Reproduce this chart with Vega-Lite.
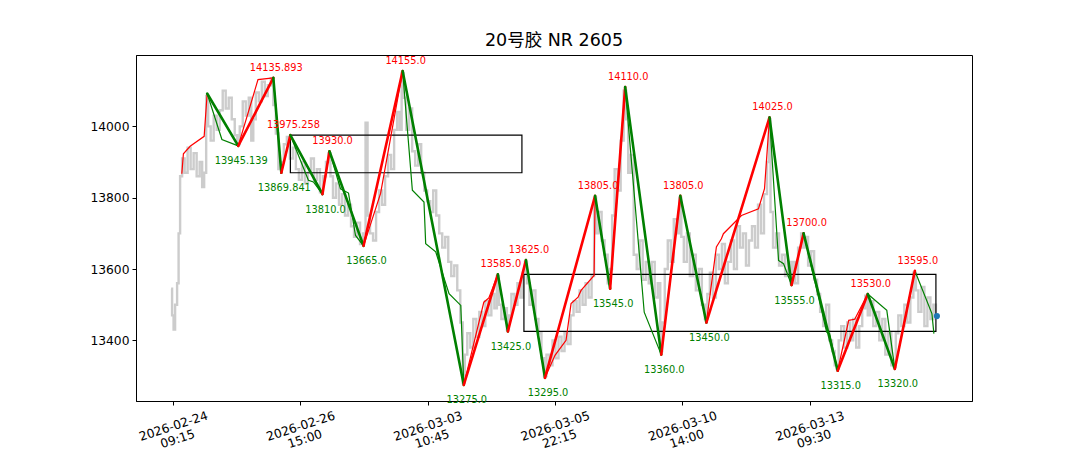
{
  "$schema": "https://vega.github.io/schema/vega-lite/v6.json",
  "width": 836,
  "height": 346,
  "autosize": {"type": "none"},
  "padding": {"left": 136, "top": 55, "right": 108, "bottom": 49},
  "title": {"text": "20号胶 NR 2605", "font": "DejaVu Sans, Noto Sans CJK SC", "fontSize": 17.5, "fontWeight": "normal", "color": "black", "offset": 6, "anchor": "middle"},
  "config": {
    "view": {"stroke": "black", "strokeWidth": 1},
    "axis": {"grid": false, "domainColor": "black", "tickColor": "black", "labelColor": "black", "labelFont": "DejaVu Sans", "labelFontSize": 12.3, "tickSize": 4, "domainWidth": 1, "tickWidth": 1, "title": null}
  },
  "datasets": {
    "gray": [
      {"i":-2,"v":13545},{"i":0,"v":13470},{"i":1,"v":13430},{"i":3,"v":13500},{"i":5,"v":13560},{"i":6,"v":13700},{"i":8,"v":13860},{"i":10,"v":13910},{"i":13,"v":13870},{"i":16,"v":13940},{"i":19,"v":13880},{"i":22,"v":13925},{"i":25,"v":13860},{"i":28,"v":13900},{"i":30,"v":13830},{"i":32,"v":13870},
      {"i":34,"v":14085},{"i":36,"v":14000},{"i":39,"v":13960},{"i":42,"v":14030},{"i":45,"v":13990},{"i":48,"v":14045},{"i":51,"v":14100},{"i":54,"v":14050},{"i":57,"v":14080},{"i":60,"v":14020},{"i":63,"v":13975},{"i":65,"v":13950},{"i":68,"v":14000},{"i":71,"v":14070},{"i":74,"v":14030},{"i":77,"v":14080},{"i":79,"v":13960},{"i":81,"v":14020},{"i":84,"v":14095},{"i":87,"v":14070},{"i":90,"v":14125},{"i":93,"v":14085},{"i":96,"v":14115},{"i":99,"v":14135},
      {"i":101,"v":14060},{"i":104,"v":13980},{"i":106,"v":13880},{"i":109,"v":13900},{"i":112,"v":13950},{"i":115,"v":13970},{"i":118,"v":13910},{"i":121,"v":13940},{"i":124,"v":13880},{"i":127,"v":13850},{"i":130,"v":13900},{"i":133,"v":13840},{"i":136,"v":13870},{"i":139,"v":13910},{"i":142,"v":13850},{"i":145,"v":13880},{"i":148,"v":13815},{"i":151,"v":13860},{"i":154,"v":13900},{"i":156,"v":13925},{"i":158,"v":13860},{"i":161,"v":13800},{"i":164,"v":13840},{"i":167,"v":13780},{"i":170,"v":13810},{"i":173,"v":13750},{"i":176,"v":13780},{"i":179,"v":13720},{"i":182,"v":13690},{"i":185,"v":13730},{"i":188,"v":13670},{"i":191,"v":13700},{"i":193,"v":14010},{"i":195,"v":13750},{"i":198,"v":13700},
      {"i":201,"v":13680},{"i":204,"v":13760},{"i":207,"v":13820},{"i":210,"v":13780},{"i":213,"v":13860},{"i":216,"v":13920},{"i":219,"v":13880},{"i":222,"v":13990},{"i":225,"v":14040},{"i":227,"v":13990},{"i":229,"v":14150},{"i":231,"v":14080},{"i":234,"v":13990},{"i":237,"v":14050},{"i":240,"v":13930},{"i":243,"v":13890},{"i":246,"v":13950},{"i":249,"v":13870},{"i":252,"v":13820},{"i":255,"v":13790},{"i":258,"v":13760},{"i":261,"v":13820},{"i":264,"v":13750},{"i":267,"v":13700},{"i":270,"v":13660},{"i":273,"v":13690},{"i":276,"v":13620},{"i":279,"v":13580},{"i":282,"v":13610},{"i":285,"v":13540},{"i":288,"v":13450},{"i":290,"v":13280},{"i":292,"v":13360},{"i":295,"v":13420},{"i":298,"v":13380},
      {"i":301,"v":13460},{"i":304,"v":13410},{"i":307,"v":13480},{"i":310,"v":13440},{"i":313,"v":13510},{"i":316,"v":13470},{"i":319,"v":13530},{"i":322,"v":13490},{"i":324,"v":13580},{"i":326,"v":13500},{"i":329,"v":13460},{"i":332,"v":13490},{"i":334,"v":13430},{"i":336,"v":13470},{"i":339,"v":13530},{"i":342,"v":13500},{"i":345,"v":13560},{"i":348,"v":13520},{"i":350,"v":13590},{"i":352,"v":13620},{"i":354,"v":13560},{"i":357,"v":13500},{"i":360,"v":13540},{"i":363,"v":13460},{"i":366,"v":13420},{"i":369,"v":13350},{"i":371,"v":13300},{"i":374,"v":13360},{"i":377,"v":13330},{"i":380,"v":13400},{"i":383,"v":13350},{"i":386,"v":13410},{"i":389,"v":13370},{"i":392,"v":13420},{"i":395,"v":13390},{"i":398,"v":13470},
      {"i":401,"v":13510},{"i":404,"v":13480},{"i":407,"v":13540},{"i":410,"v":13500},{"i":413,"v":13560},{"i":416,"v":13520},{"i":419,"v":13580},{"i":421,"v":13800},{"i":423,"v":13700},{"i":426,"v":13760},{"i":429,"v":13680},{"i":432,"v":13640},{"i":435,"v":13560},{"i":437,"v":13600},{"i":439,"v":13750},{"i":442,"v":13880},{"i":445,"v":13820},{"i":448,"v":13960},{"i":451,"v":14100},{"i":453,"v":14020},{"i":455,"v":13870},{"i":458,"v":13920},{"i":461,"v":13640},{"i":464,"v":13600},{"i":467,"v":13680},{"i":470,"v":13570},{"i":473,"v":13620},{"i":476,"v":13560},{"i":479,"v":13620},{"i":482,"v":13520},{"i":485,"v":13560},{"i":487,"v":13370},{"i":489,"v":13450},{"i":492,"v":13600},{"i":495,"v":13680},{"i":498,"v":13620},
      {"i":501,"v":13740},{"i":504,"v":13700},{"i":506,"v":13800},{"i":508,"v":13690},{"i":511,"v":13620},{"i":514,"v":13700},{"i":517,"v":13580},{"i":520,"v":13640},{"i":523,"v":13540},{"i":526,"v":13600},{"i":529,"v":13500},{"i":532,"v":13460},{"i":534,"v":13530},{"i":537,"v":13590},{"i":540,"v":13520},{"i":543,"v":13640},{"i":546,"v":13600},{"i":549,"v":13670},{"i":552,"v":13560},{"i":555,"v":13620},{"i":558,"v":13680},{"i":561,"v":13600},{"i":564,"v":13720},{"i":567,"v":13660},{"i":570,"v":13700},{"i":573,"v":13610},{"i":576,"v":13680},{"i":579,"v":13720},{"i":582,"v":13660},{"i":585,"v":13780},{"i":588,"v":13700},{"i":591,"v":13810},{"i":594,"v":13900},{"i":595,"v":14020},{"i":597,"v":13760},
      {"i":600,"v":13660},{"i":603,"v":13700},{"i":606,"v":13610},{"i":609,"v":13640},{"i":612,"v":13580},{"i":615,"v":13620},{"i":617,"v":13560},{"i":619,"v":13620},{"i":622,"v":13560},{"i":625,"v":13660},{"i":628,"v":13700},{"i":630,"v":13660},{"i":632,"v":13690},{"i":635,"v":13610},{"i":638,"v":13650},{"i":641,"v":13570},{"i":644,"v":13530},{"i":647,"v":13480},{"i":650,"v":13440},{"i":653,"v":13500},{"i":656,"v":13400},{"i":659,"v":13370},{"i":661,"v":13330},{"i":663,"v":13320},{"i":665,"v":13400},{"i":668,"v":13440},{"i":671,"v":13380},{"i":674,"v":13450},{"i":677,"v":13400},{"i":680,"v":13460},{"i":683,"v":13380},{"i":686,"v":13440},{"i":689,"v":13490},{"i":692,"v":13525},{"i":694,"v":13470},{"i":697,"v":13510},
      {"i":700,"v":13440},{"i":703,"v":13480},{"i":706,"v":13400},{"i":709,"v":13460},{"i":712,"v":13360},{"i":715,"v":13420},{"i":718,"v":13330},{"i":720,"v":13325},{"i":722,"v":13420},{"i":725,"v":13470},{"i":728,"v":13440},{"i":731,"v":13500},{"i":734,"v":13450},{"i":737,"v":13520},{"i":740,"v":13590},{"i":742,"v":13540},{"i":745,"v":13480},{"i":748,"v":13550},{"i":751,"v":13440},{"i":754,"v":13520},{"i":757,"v":13460},{"i":760,"v":13500},{"i":762,"v":13468}
    ],
    "boxes": [
      {"i":117,"i2":348,"v":13869.841,"v2":13975.258},
      {"i":350,"i2":761,"v":13425,"v2":13585}
    ],
    "thin": [
      {"s":0,"d":"up","i":8.7,"v":13867},{"s":0,"d":"up","i":10.3,"v":13923},{"s":0,"d":"up","i":17,"v":13944},{"s":0,"d":"up","i":31,"v":13972},{"s":0,"d":"up","i":34,"v":14092},
      {"s":1,"d":"down","i":34,"v":14092},{"s":1,"d":"down","i":48.7,"v":13963},{"s":1,"d":"down","i":65,"v":13945.139},
      {"s":2,"d":"up","i":65,"v":13945.139},{"s":2,"d":"up","i":84.7,"v":14131},{"s":2,"d":"up","i":100,"v":14135.893},
      {"s":3,"d":"down","i":100,"v":14135.893},{"s":3,"d":"down","i":108,"v":13869.841},
      {"s":4,"d":"up","i":108,"v":13869.841},{"s":4,"d":"up","i":117,"v":13975.258},
      {"s":5,"d":"down","i":117,"v":13975.258},{"s":5,"d":"down","i":135,"v":13849},{"s":5,"d":"down","i":140,"v":13844},{"s":5,"d":"down","i":149,"v":13810},
      {"s":6,"d":"up","i":149,"v":13810},{"s":6,"d":"up","i":156,"v":13930},
      {"s":7,"d":"down","i":156,"v":13930},{"s":7,"d":"down","i":167,"v":13825},{"s":7,"d":"down","i":175,"v":13813},{"s":7,"d":"down","i":182,"v":13694},{"s":7,"d":"down","i":190,"v":13665},
      {"s":8,"d":"up","i":190,"v":13665},{"s":8,"d":"up","i":207,"v":13812},{"s":8,"d":"up","i":229,"v":14155},
      {"s":9,"d":"down","i":229,"v":14155},{"s":9,"d":"down","i":238.7,"v":13821},{"s":9,"d":"down","i":250.3,"v":13788},{"s":9,"d":"down","i":252,"v":13671},{"s":9,"d":"down","i":262,"v":13648},{"s":9,"d":"down","i":275.3,"v":13531},{"s":9,"d":"down","i":287,"v":13498},{"s":9,"d":"down","i":290,"v":13275},
      {"s":10,"d":"up","i":290,"v":13275},{"s":10,"d":"up","i":310,"v":13507},{"s":10,"d":"up","i":315,"v":13519},{"s":10,"d":"up","i":324,"v":13585},
      {"s":11,"d":"down","i":324,"v":13585},{"s":11,"d":"down","i":334,"v":13425},
      {"s":12,"d":"up","i":334,"v":13425},{"s":12,"d":"up","i":352,"v":13625},
      {"s":13,"d":"down","i":352,"v":13625},{"s":13,"d":"down","i":371,"v":13295},
      {"s":14,"d":"up","i":371,"v":13295},{"s":14,"d":"up","i":381,"v":13358},{"s":14,"d":"up","i":392,"v":13400},{"s":14,"d":"up","i":397,"v":13503},{"s":14,"d":"up","i":404,"v":13521},{"s":14,"d":"up","i":407,"v":13540},{"s":14,"d":"up","i":420,"v":13582},{"s":14,"d":"up","i":421,"v":13805},
      {"s":15,"d":"down","i":421,"v":13805},{"s":15,"d":"down","i":436,"v":13545},
      {"s":16,"d":"up","i":436,"v":13545},{"s":16,"d":"up","i":451,"v":14110},
      {"s":17,"d":"down","i":451,"v":14110},{"s":17,"d":"down","i":470,"v":13479},{"s":17,"d":"down","i":487,"v":13360},
      {"s":18,"d":"up","i":487,"v":13360},{"s":18,"d":"up","i":506,"v":13805},
      {"s":19,"d":"down","i":506,"v":13805},{"s":19,"d":"down","i":532,"v":13450},
      {"s":20,"d":"up","i":532,"v":13450},{"s":20,"d":"up","i":542,"v":13662},{"s":20,"d":"up","i":547,"v":13685},{"s":20,"d":"up","i":549,"v":13699},{"s":20,"d":"up","i":567,"v":13750},{"s":20,"d":"up","i":584,"v":13769},{"s":20,"d":"up","i":590,"v":13825},{"s":20,"d":"up","i":595,"v":14025},
      {"s":21,"d":"down","i":595,"v":14025},{"s":21,"d":"down","i":604,"v":13624},{"s":21,"d":"down","i":609,"v":13615},{"s":21,"d":"down","i":617,"v":13555},
      {"s":22,"d":"up","i":617,"v":13555},{"s":22,"d":"up","i":629,"v":13700},
      {"s":23,"d":"down","i":629,"v":13700},{"s":23,"d":"down","i":652,"v":13423},{"s":23,"d":"down","i":655,"v":13419},{"s":23,"d":"down","i":663,"v":13315},
      {"s":24,"d":"up","i":663,"v":13315},{"s":24,"d":"up","i":674,"v":13456},{"s":24,"d":"up","i":680,"v":13459},{"s":24,"d":"up","i":693,"v":13530},
      {"s":25,"d":"down","i":693,"v":13530},{"s":25,"d":"down","i":712,"v":13484},{"s":25,"d":"down","i":720,"v":13320},
      {"s":26,"d":"up","i":720,"v":13320},{"s":26,"d":"up","i":740,"v":13595},
      {"s":27,"d":"down","i":740,"v":13595},{"s":27,"d":"down","i":757,"v":13475},{"s":27,"d":"down","i":759,"v":13419}
    ],
    "thick": [
      {"i":34,"v":14092,"i2":65,"v2":13945.139,"d":"down"},
      {"i":65,"v":13945.139,"i2":100,"v2":14135.893,"d":"up"},
      {"i":100,"v":14135.893,"i2":108,"v2":13869.841,"d":"down"},
      {"i":108,"v":13869.841,"i2":117,"v2":13975.258,"d":"up"},
      {"i":117,"v":13975.258,"i2":149,"v2":13810,"d":"down"},
      {"i":149,"v":13810,"i2":156,"v2":13930,"d":"up"},
      {"i":156,"v":13930,"i2":190,"v2":13665,"d":"down"},
      {"i":190,"v":13665,"i2":229,"v2":14155,"d":"up"},
      {"i":229,"v":14155,"i2":290,"v2":13275,"d":"down"},
      {"i":290,"v":13275,"i2":324,"v2":13585,"d":"up"},
      {"i":324,"v":13585,"i2":334,"v2":13425,"d":"down"},
      {"i":334,"v":13425,"i2":352,"v2":13625,"d":"up"},
      {"i":352,"v":13625,"i2":371,"v2":13295,"d":"down"},
      {"i":371,"v":13295,"i2":421,"v2":13805,"d":"up"},
      {"i":421,"v":13805,"i2":436,"v2":13545,"d":"down"},
      {"i":436,"v":13545,"i2":451,"v2":14110,"d":"up"},
      {"i":451,"v":14110,"i2":487,"v2":13360,"d":"down"},
      {"i":487,"v":13360,"i2":506,"v2":13805,"d":"up"},
      {"i":506,"v":13805,"i2":532,"v2":13450,"d":"down"},
      {"i":532,"v":13450,"i2":595,"v2":14025,"d":"up"},
      {"i":595,"v":14025,"i2":617,"v2":13555,"d":"down"},
      {"i":617,"v":13555,"i2":629,"v2":13700,"d":"up"},
      {"i":629,"v":13700,"i2":663,"v2":13315,"d":"down"},
      {"i":663,"v":13315,"i2":693,"v2":13530,"d":"up"},
      {"i":693,"v":13530,"i2":720,"v2":13320,"d":"down"},
      {"i":720,"v":13320,"i2":740,"v2":13595,"d":"up"}
    ],
    "labels": [
      {"i":65,"v":13945.139,"t":"13945.139","k":"bot"},
      {"i":100,"v":14135.893,"t":"14135.893","k":"top"},
      {"i":108,"v":13869.841,"t":"13869.841","k":"bot"},
      {"i":117,"v":13975.258,"t":"13975.258","k":"top"},
      {"i":149,"v":13810,"t":"13810.0","k":"bot"},
      {"i":156,"v":13930,"t":"13930.0","k":"top"},
      {"i":190,"v":13665,"t":"13665.0","k":"bot"},
      {"i":229,"v":14155,"t":"14155.0","k":"top"},
      {"i":290,"v":13275,"t":"13275.0","k":"bot"},
      {"i":324,"v":13585,"t":"13585.0","k":"top"},
      {"i":334,"v":13425,"t":"13425.0","k":"bot"},
      {"i":352,"v":13625,"t":"13625.0","k":"top"},
      {"i":371,"v":13295,"t":"13295.0","k":"bot"},
      {"i":421,"v":13805,"t":"13805.0","k":"top"},
      {"i":436,"v":13545,"t":"13545.0","k":"bot"},
      {"i":451,"v":14110,"t":"14110.0","k":"top"},
      {"i":487,"v":13360,"t":"13360.0","k":"bot"},
      {"i":506,"v":13805,"t":"13805.0","k":"top"},
      {"i":532,"v":13450,"t":"13450.0","k":"bot"},
      {"i":595,"v":14025,"t":"14025.0","k":"top"},
      {"i":617,"v":13555,"t":"13555.0","k":"bot"},
      {"i":629,"v":13700,"t":"13700.0","k":"top"},
      {"i":663,"v":13315,"t":"13315.0","k":"bot"},
      {"i":693,"v":13530,"t":"13530.0","k":"top"},
      {"i":720,"v":13320,"t":"13320.0","k":"bot"},
      {"i":740,"v":13595,"t":"13595.0","k":"top"}
    ],
    "last": [{"i":762,"v":13468}]
  },
  "layer": [
    {
      "data": {"name": "gray"},
      "mark": {"type": "line", "interpolate": "step", "color": "#cccccc", "strokeWidth": 2.4},
      "encoding": {
        "x": {"field": "i", "type": "quantitative", "scale": {"domain": [-37, 797], "nice": false, "zero": false},
          "axis": {"values": [0, 127, 254, 381, 508, 635], "labelAngle": -18, "labelAlign": "center", "labelBaseline": "top", "labelPadding": 15, "labelLineHeight": 13.5, "labelOffset": -2,
            "labelExpr": "datum.value == 0 ? ['2026-02-24','09:15'] : datum.value == 127 ? ['2026-02-26','15:00'] : datum.value == 254 ? ['2026-03-03','10:45'] : datum.value == 381 ? ['2026-03-05','22:15'] : datum.value == 508 ? ['2026-03-10','14:00'] : ['2026-03-13','09:30']"}},
        "y": {"field": "v", "type": "quantitative", "scale": {"domain": [13230, 14200], "nice": false, "zero": false},
          "axis": {"values": [13400, 13600, 13800, 14000], "labelPadding": 3, "format": "d"}}
      }
    },
    {
      "data": {"name": "boxes"},
      "mark": {"type": "rect", "fillOpacity": 0, "stroke": "black", "strokeWidth": 1.2},
      "encoding": {
        "x": {"field": "i", "type": "quantitative"},
        "x2": {"field": "i2"},
        "y": {"field": "v", "type": "quantitative"},
        "y2": {"field": "v2"}
      }
    },
    {
      "data": {"name": "thin"},
      "mark": {"type": "line", "strokeWidth": 1.2},
      "encoding": {
        "x": {"field": "i", "type": "quantitative"},
        "y": {"field": "v", "type": "quantitative"},
        "detail": {"field": "s", "type": "nominal"},
        "color": {"field": "d", "type": "nominal", "scale": {"domain": ["up", "down"], "range": ["red", "green"]}, "legend": null}
      }
    },
    {
      "data": {"name": "thick"},
      "mark": {"type": "rule", "strokeWidth": 2.6, "strokeCap": "round"},
      "encoding": {
        "x": {"field": "i", "type": "quantitative"},
        "x2": {"field": "i2"},
        "y": {"field": "v", "type": "quantitative"},
        "y2": {"field": "v2"},
        "color": {"field": "d", "type": "nominal", "scale": {"domain": ["up", "down"], "range": ["red", "green"]}, "legend": null}
      }
    },
    {
      "data": {"name": "labels"},
      "transform": [{"filter": "datum.k == 'top'"}],
      "mark": {"type": "text", "font": "DejaVu Sans", "fontSize": 9.8, "color": "red", "baseline": "middle", "align": "center", "dx": 3, "dy": -10},
      "encoding": {
        "x": {"field": "i", "type": "quantitative"},
        "y": {"field": "v", "type": "quantitative"},
        "text": {"field": "t"}
      }
    },
    {
      "data": {"name": "labels"},
      "transform": [{"filter": "datum.k == 'bot'"}],
      "mark": {"type": "text", "font": "DejaVu Sans", "fontSize": 9.8, "color": "green", "baseline": "middle", "align": "center", "dx": 3, "dy": 15.5},
      "encoding": {
        "x": {"field": "i", "type": "quantitative"},
        "y": {"field": "v", "type": "quantitative"},
        "text": {"field": "t"}
      }
    },
    {
      "data": {"name": "last"},
      "mark": {"type": "point", "filled": true, "color": "#1f77b4", "size": 38, "opacity": 1},
      "encoding": {
        "x": {"field": "i", "type": "quantitative"},
        "y": {"field": "v", "type": "quantitative"}
      }
    }
  ]
}
